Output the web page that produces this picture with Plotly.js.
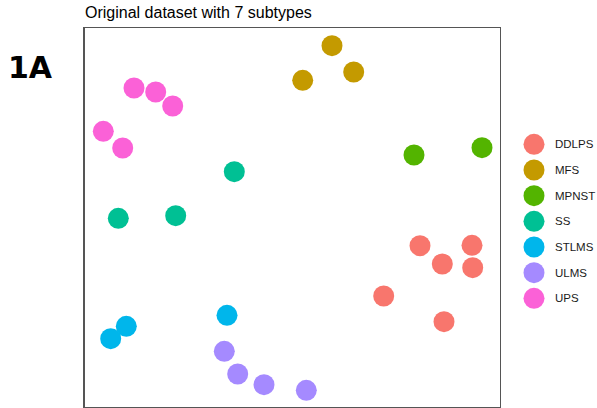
<!DOCTYPE html>
<html>
<head>
<meta charset="utf-8">
<script src="https://cdn.plot.ly/plotly-3.0.1.min.js"></script>
<style>html,body{margin:0;padding:0;background:#fff;}#chart{width:597px;height:408px;}</style>
</head>
<body>
<div id="chart"></div>
<script>
// Categories (subtypes) and colours
const subtypes = ["DDLPS", "MFS", "MPNST", "SS", "STLMS", "ULMS", "UPS"];
const colors = ["#F8766D", "#C49A00", "#53B400", "#00C094", "#00B6EB", "#A58AFF", "#FB61D7"];

// Embedding coordinates per subtype
const DDLPS_x = [12.85, 15.08, 18.05, 18.12, 9.22, 15.25];
const DDLPS_y = [-2.87, -4.70, -2.83, -5.07, -7.90, -10.47];
const MFS_x = [4.05, 6.22, 1.12];
const MFS_y = [17.13, 14.50, 13.67];
const MPNST_x = [12.25, 19.05];
const MPNST_y = [6.20, 6.93];
const SS_x = [-5.72, -17.32, -11.58];
const SS_y = [4.53, -0.13, 0.13];
const STLMS_x = [-18.08, -16.52, -6.45];
const STLMS_y = [-12.17, -10.93, -9.83];
const ULMS_x = [-6.72, -5.38, -2.75, 1.48];
const ULMS_y = [-13.43, -15.70, -16.77, -17.33];
const UPS_x = [-15.75, -13.58, -11.88, -18.82, -16.88];
const UPS_y = [12.90, 12.50, 11.10, 8.57, 6.90];

const xs = [DDLPS_x, MFS_x, MPNST_x, SS_x, STLMS_x, ULMS_x, UPS_x];
const ys = [DDLPS_y, MFS_y, MPNST_y, SS_y, STLMS_y, ULMS_y, UPS_y];

const titleText = "Original dataset with 7 subtypes";
const panelLabel = "1A";

const W = 597, H = 408;
const frame = {l: 84.5, r: 499.5, t: 28, b: 406.5};

const traces = subtypes.map((s, i) => ({
  type: "scatter", mode: "markers", name: s,
  x: xs[i], y: ys[i],
  marker: {color: colors[i], size: 21, line: {width: 0}},
  xaxis: "x", yaxis: "y", hoverinfo: "skip"
}));

// Legend drawn on its own axis
const legIdx = subtypes.map((s, i) => i);
traces.push({
  type: "scatter", mode: "markers",
  x: subtypes.map(() => 34), y: legIdx,
  marker: {color: colors, size: 21, line: {width: 0}},
  xaxis: "x2", yaxis: "y2", hoverinfo: "skip"
});

const legStart = 144.3, legStep = 25.67;
const legendAnn = subtypes.map((s, i) => ({
  xref: "x2", yref: "y2", x: 53, y: i, text: s, showarrow: false,
  xanchor: "left", yanchor: "middle",
  font: {family: "Liberation Sans, Arial, sans-serif", size: 11.5, color: "#1a1a1a"}
}));

const layout = {
  width: W, height: H,
  margin: {l: 0, r: 0, t: 0, b: 0, pad: 0},
  paper_bgcolor: "#ffffff", plot_bgcolor: "#ffffff",
  showlegend: false,
  title: {
    text: titleText, x: 85 / W, xanchor: "left", xref: "paper",
    y: 1 - 12 / H, yanchor: "middle", yref: "container",
    font: {family: "Liberation Sans, Arial, sans-serif", size: 16, color: "#000000"}
  },
  xaxis: {
    domain: [frame.l / W, frame.r / W], range: [-20.7, 20.8],
    showgrid: false, zeroline: false, showticklabels: false, ticks: "",
    showline: true, mirror: true, linecolor: "#555555", linewidth: 1.2
  },
  yaxis: {
    domain: [1 - frame.b / H, 1 - frame.t / H], range: [-18.95, 18.9],
    showgrid: false, zeroline: false, showticklabels: false, ticks: "",
    showline: true, mirror: true, linecolor: "#555555", linewidth: 1.2
  },
  xaxis2: {
    domain: [500 / W, 1], range: [0, 97], visible: false, fixedrange: true
  },
  yaxis2: {
    domain: [0, 1], range: [(H - legStart) / legStep, -legStart / legStep],
    visible: false, fixedrange: true
  },
  annotations: legendAnn.concat([{
    xref: "paper", yref: "paper", x: 6 / W, y: 1 - 67.5 / H,
    xanchor: "left", yanchor: "middle", showarrow: false,
    text: "<b>" + panelLabel + "</b>",
    font: {family: "DejaVu Sans, sans-serif", size: 30, color: "#000000"}
  }])
};

Plotly.newPlot("chart", traces, layout, {staticPlot: true, displayModeBar: false});
</script>
</body>
</html>
